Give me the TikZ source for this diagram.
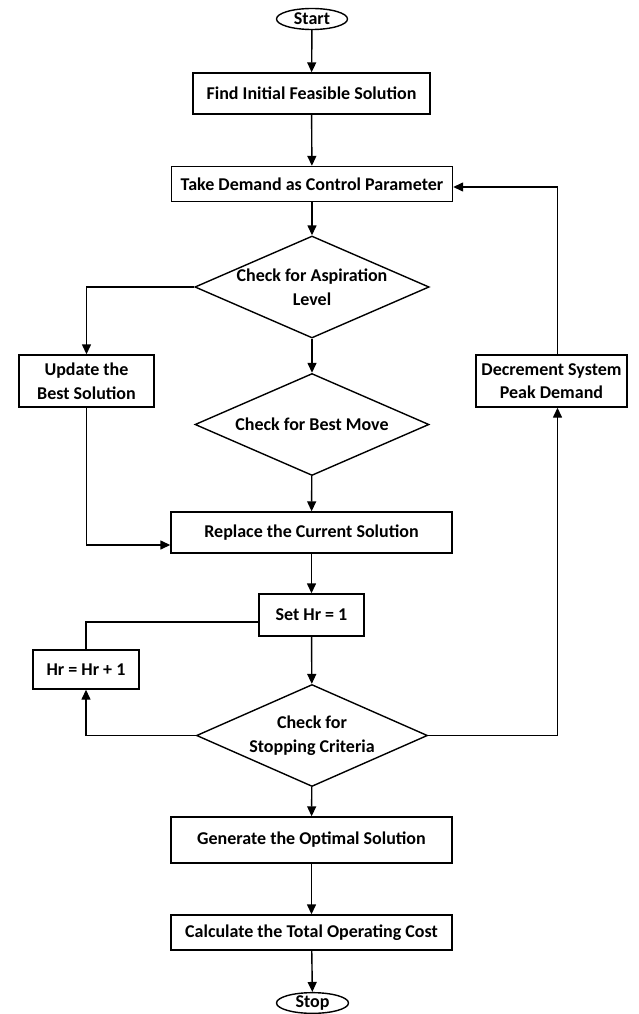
\documentclass[tikz,border=0pt]{standalone}
\usepackage{fontspec}
\setmainfont{Carlito}
\usetikzlibrary{shapes.geometric,arrows.meta}
\begin{document}
\begin{tikzpicture}[x=1pt,y=-1pt,
  every node/.style={font=\bfseries\fontsize{18}{23.5}\selectfont, line width=1.4pt},
  box/.style={draw, rectangle, inner sep=0pt, align=center},
  decision/.style={draw, diamond, aspect=2.3, inner sep=0pt, align=center},
  terminal/.style={draw, ellipse, inner sep=0pt},
  arr/.style={line width=1.4pt, -{Triangle[length=10pt,width=9pt]}},
  link/.style={line width=1.4pt}]
\useasboundingbox (0,0) rectangle (638,1014);

% main column
\node[terminal, minimum width=71pt, minimum height=21pt] (start) at (312,19) {Start};
\node[box, minimum width=237pt, minimum height=41pt] (find) at (311.5,93.5) {Find Initial Feasible Solution};
\node[box, minimum width=281pt, minimum height=35pt] (take) at (312,184) {Take Demand as Control Parameter};
\node[decision, minimum width=234pt, minimum height=102pt] (asp) at (312,287) {Check for Aspiration\\Level};
\node[decision, minimum width=234pt, minimum height=102pt] (best) at (312,424.5) {Check for Best Move};
\node[box, minimum width=281pt, minimum height=41pt] (replace) at (311.5,532.5) {Replace the Current Solution};
\node[box, minimum width=105pt, minimum height=42pt] (sethr) at (311.5,615) {Set Hr = 1};
\node[decision, minimum width=231pt, minimum height=102pt] (crit) at (312,735.5) {Check for\\Stopping Criteria};
\node[box, minimum width=281pt, minimum height=46pt] (gen) at (311.5,840) {Generate the Optimal Solution};
\node[box, minimum width=281pt, minimum height=35pt] (calc) at (311.5,932.5) {Calculate the Total Operating Cost};
\node[terminal, minimum width=72pt, minimum height=20pt] (stop) at (312.5,1003) {Stop};

% side boxes
\node[box, minimum width=135pt, minimum height=52pt] (update) at (86.5,381) {Update the\\Best Solution};
\node[box, minimum width=106pt, minimum height=39pt] (hrinc) at (86,669.5) {Hr = Hr + 1};
\node[box, minimum width=151pt, minimum height=52pt] (dec) at (551.5,381) {Decrement System\\Peak Demand};

% attachment points off the node centres
\path (replace.west) ++(0,12.5) coordinate (repin);
\path (sethr.west) ++(0,7) coordinate (hrout);
\path (dec.south) ++(6,0) coordinate (decin);
\path (dec.north) ++(6,0) coordinate (decout);
\path (take.east) ++(0,3) coordinate (takein);

% main flow
\draw[arr] (start) -- (find);
\draw[arr] (find) -- (take);
\draw[arr] (take) -- (asp);
\draw[arr] (asp) -- (best);
\draw[arr] (best) -- (replace);
\draw[arr] (replace) -- (sethr);
\draw[arr] (sethr) -- (crit);
\draw[arr] (crit) -- (gen);
\draw[arr] (gen) -- (calc);
\draw[arr] (calc) -- (stop);

% branches and loops
\draw[arr] (asp.west) -| (update.north);
\draw[arr] (update.south) |- (repin);
\draw[link] (hrout) -| (hrinc.north);
\draw[arr] (crit.west) -| (hrinc.south);
\draw[arr] (crit.east) -| (decin);
\draw[arr] (decout) |- (takein);
\end{tikzpicture}
\end{document}
